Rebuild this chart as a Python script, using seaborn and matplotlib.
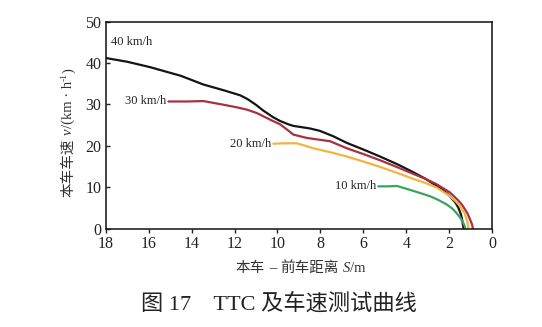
import numpy as np
import pandas as pd
import matplotlib
matplotlib.use("Agg")
import matplotlib.pyplot as plt
import seaborn as sns

# ---- data ----
s40 = [18.0, 17.0, 15.94, 14.5, 13.45, 12.5, 11.74, 11.4, 11.0, 10.66, 10.2, 9.88, 9.5, 9.26, 8.5, 8.02, 7.4, 6.77, 6.0, 5.22, 4.4, 3.67, 3.1, 2.58, 2.2, 1.96, 1.7, 1.57, 1.45, 1.38, 1.33]
v40 = [41.2, 40.3, 39.0, 36.9, 34.8, 33.4, 32.2, 31.3, 29.9, 28.5, 26.9, 26.0, 25.2, 24.8, 24.2, 23.6, 22.3, 20.7, 19.1, 17.4, 15.5, 13.6, 12.0, 10.3, 8.9, 7.8, 6.2, 5.0, 3.4, 1.6, 0.0]

s30 = [15.08, 14.2, 13.45, 12.6, 11.9, 11.4, 10.96, 10.3, 9.88, 9.5, 9.26, 8.64, 7.55, 6.77, 6.0, 5.22, 4.4, 3.67, 3.1, 2.58, 1.96, 1.6, 1.41, 1.15, 1.02, 0.93, 0.9]
v30 = [30.7, 30.7, 30.8, 30.0, 29.3, 28.7, 27.9, 26.2, 25.2, 23.7, 22.7, 21.9, 21.1, 19.4, 18.0, 16.5, 14.8, 13.2, 12.0, 10.7, 8.7, 6.9, 5.8, 3.7, 2.1, 0.9, 0.0]

s20 = [10.19, 9.6, 9.1, 8.7, 8.33, 7.5, 6.77, 6.0, 5.22, 4.4, 3.67, 3.1, 2.58, 1.96, 1.7, 1.49, 1.28, 1.18, 1.12, 1.1]
v20 = [20.5, 20.6, 20.6, 20.0, 19.4, 18.4, 17.4, 16.2, 14.9, 13.4, 12.0, 11.0, 9.9, 7.8, 6.6, 5.4, 3.7, 2.1, 0.8, 0.0]

s10 = [5.3, 4.8, 4.44, 4.05, 3.67, 3.3, 2.89, 2.5, 2.11, 1.85, 1.65, 1.45, 1.33, 1.27, 1.25]
v10 = [10.2, 10.2, 10.3, 9.7, 9.1, 8.5, 7.8, 6.9, 5.8, 4.8, 3.7, 2.4, 1.2, 0.5, 0.0]

series_labels = ["40 km/h", "30 km/h", "20 km/h", "10 km/h"]
series_colors = ["#141414", "#a8303f", "#f2b441", "#3aa35c"]
x_ticks = [18, 16, 14, 12, 10, 8, 6, 4, 2, 0]
y_ticks = [0, 10, 20, 30, 40, 50]

frames = []
for lab, s, v in zip(series_labels, [s40, s30, s20, s10], [v40, v30, v20, v10]):
    frames.append(pd.DataFrame({"S": s, "v": v, "speed": lab}))
df = pd.concat(frames, ignore_index=True)

sns.set_theme(style="ticks")
fam = ['Liberation Serif', 'Noto Sans CJK SC', 'DejaVu Sans']
plt.rcParams['font.family'] = fam

W, H = 542, 327
fig = plt.figure(figsize=(W / 100, H / 100), dpi=100)
ax = fig.add_axes([0.195, 0.301, 0.713, 0.633])

sns.lineplot(data=df, x="S", y="v", hue="speed", hue_order=series_labels,
             palette=series_colors, sort=False, estimator=None, units="speed",
             linewidth=1.6, legend=False, ax=ax)

ax.set_xlabel("")
ax.set_ylabel("")
ax.set_xlim(18, 0)
ax.set_ylim(0, 50)
ax.set_xticks(x_ticks)
ax.set_yticks(y_ticks)
ax.tick_params(axis='x', direction='out', length=3, width=1, labelsize=11.5, pad=2, colors='#222222')
ax.tick_params(axis='y', direction='in', length=3, width=1, labelsize=11.5, pad=3, colors='#222222')
for sp in ax.spines.values():
    sp.set_visible(True)
    sp.set_linewidth(1.1)
    sp.set_color('#111111')

# curve labels
ann_pos = [(17.75, 45.0, 'left'), (15.2, 30.7, 'right'), (10.3, 20.5, 'right'), (5.4, 10.2, 'right')]
for lab, (x, y, ha) in zip(series_labels, ann_pos):
    ax.text(x, y, lab, ha=ha, va='center', fontsize=9, color='#222222')

renderer = fig.canvas.get_renderer()
CJK = 'Noto Sans CJK SC'
SER = 'Liberation Serif'


def rich_label(segs, center_px, base_px, rotation, fs=10.5, color='#333333'):
    """segs: list of (text, family, style, size_scale, rise_px, gap_px)."""
    items = []
    total = 0.0
    for txt, family, style, scale, rise, gap in segs:
        t = fig.text(0, 0, txt, fontsize=fs * scale, style=style, family=family, color=color,
                     rotation=0, ha='left', va='baseline')
        bb = t.get_window_extent(renderer)
        t.set_rotation(rotation)
        t.set_rotation_mode('anchor')
        items.append((t, total, rise))
        total += bb.width + gap
    start = center_px - total / 2
    for t, off, rise in items:
        if rotation == 0:
            t.set_position(((start + off) / W, (base_px + rise) / H))
        else:
            t.set_position(((base_px - rise) / W, (start + off) / H))


rich_label([("本车", CJK, 'normal', 1, 0, 4), ("–", SER, 'normal', 1, 0, 4),
            ("前车距离", CJK, 'normal', 1, 0, 4), ("S", SER, 'italic', 1, 0, 0),
            ("/m", SER, 'normal', 1, 0, 0)],
           center_px=301, base_px=H - 272, rotation=0)
rich_label([("本车车速", CJK, 'normal', 1, 0, 4), ("v", SER, 'italic', 1, 0, 0),
            ("/(km · h", SER, 'normal', 1, 0, 0),
            ("-1", SER, 'normal', 0.65, 5, 0), (")", SER, 'normal', 1, 0, 0)],
           center_px=H - 133, base_px=72, rotation=90)

fig.text(0.515, 0.068, "图 17　TTC 及车速测试曲线", ha='center', va='center', fontsize=16,
         color='#222222', family=fam)

fig.savefig("out.png", dpi=100, facecolor='white')
